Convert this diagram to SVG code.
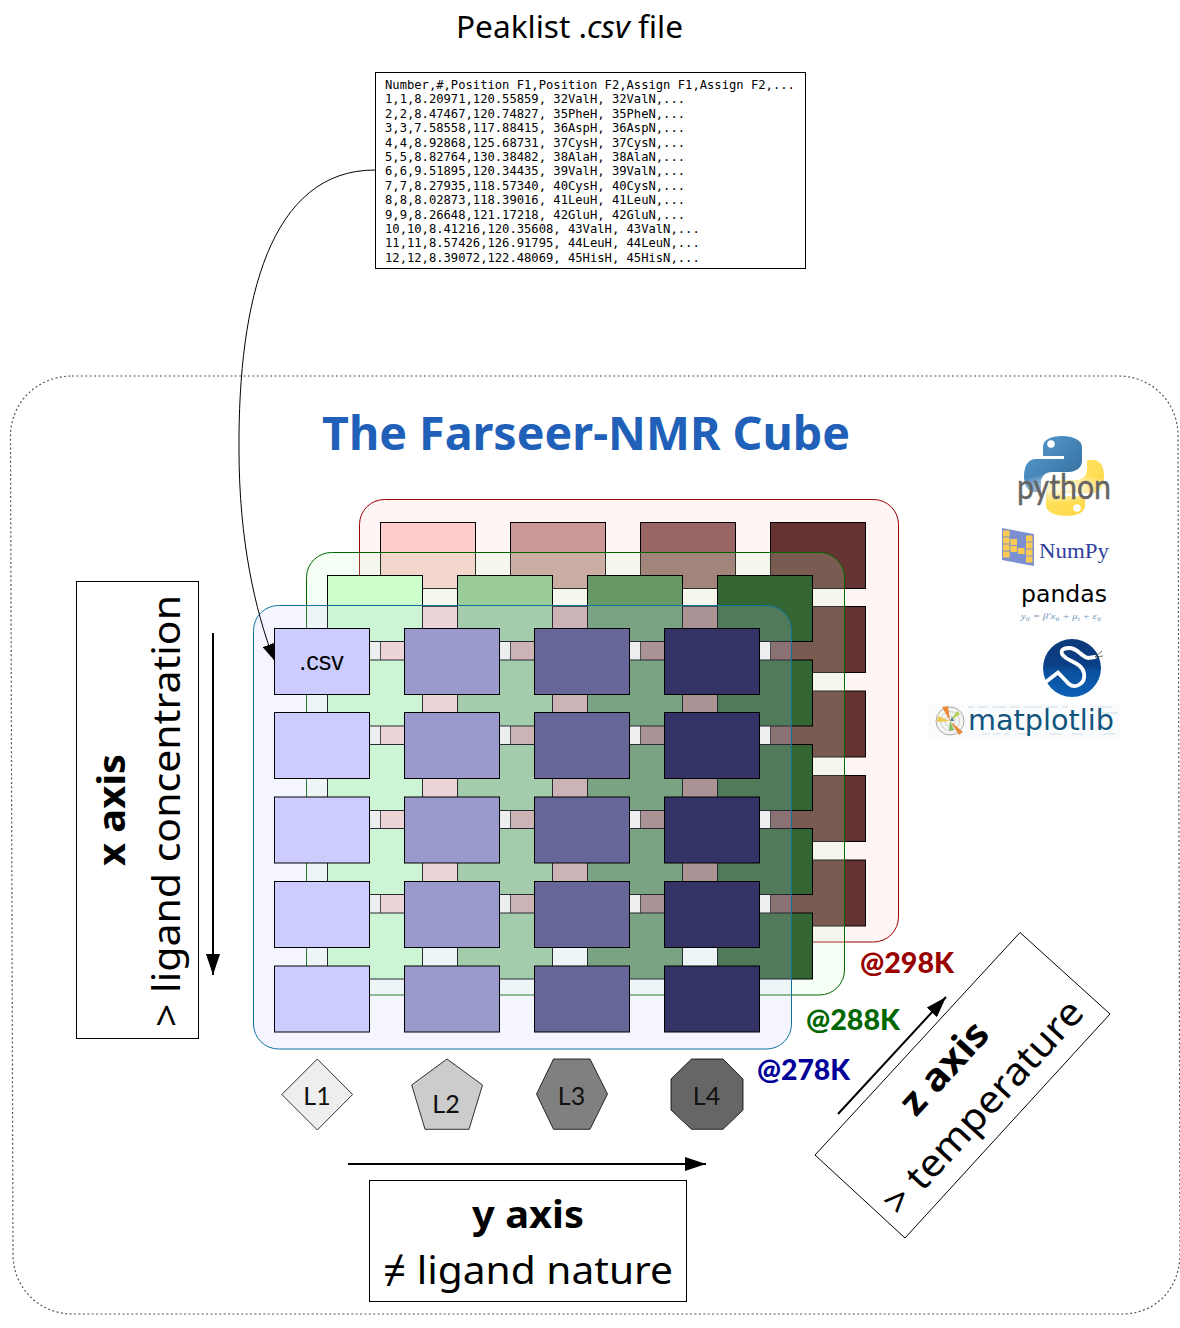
<svg xmlns="http://www.w3.org/2000/svg" width="1180" height="1328" viewBox="0 0 1180 1328">
<defs>
<style>
text{font-family:"Noto Sans","DejaVu Sans",sans-serif;fill:#000}
.c{stroke:#000;stroke-width:1;height:66px}
.r1{fill:#ffcccc}.r2{fill:#cc9999}.r3{fill:#996666}.r4{fill:#663333}
.g1{fill:#ccffcc}.g2{fill:#99cc99}.g3{fill:#669966}.g4{fill:#336633}
.b1{fill:#ccccff}.b2{fill:#9999cc}.b3{fill:#666699}.b4{fill:#333366}
.box{fill:#fff;stroke:#000;stroke-width:1}
.mono{font-family:"DejaVu Sans Mono",monospace;font-size:12.17px}
.b{font-weight:700}
.temp{font-family:"Lato",sans-serif;font-weight:900;font-size:29px}
.l{font-family:"Lato",sans-serif;font-size:25px;text-anchor:middle;fill:#111}
.lig{stroke:#000;stroke-width:.8}
.arrow{fill:none;stroke:#000;stroke-width:2;marker-end:url(#ah)}
</style>
<marker id="ah" markerWidth="10.500" markerHeight="7" refX="10.500" refY="3.500" orient="auto" markerUnits="strokeWidth"><path d="M0 0L10.500 3.500L0 7Z" fill="#000"/></marker>
<marker id="ah2" markerWidth="16" markerHeight="12" refX="16" refY="6" orient="auto" markerUnits="userSpaceOnUse"><path d="M0 0L16 6L0 12Z" fill="#000"/></marker>
<linearGradient id="py1" x1="0" y1="0" x2="1" y2="1"><stop offset="0" stop-color="#5a9fd4"/><stop offset="1" stop-color="#306998"/></linearGradient>
<linearGradient id="py2" x1="0" y1="0" x2="1" y2="1"><stop offset="0" stop-color="#ffd43b"/><stop offset="1" stop-color="#ffe873"/></linearGradient>
<linearGradient id="sp" x1="0" y1="0" x2="0" y2="1"><stop offset="0" stop-color="#0a3a78"/><stop offset=".45" stop-color="#0b3f86"/><stop offset=".55" stop-color="#0a4f9c"/><stop offset="1" stop-color="#0c62b8"/></linearGradient>
<radialGradient id="pyfade"><stop offset="0" stop-color="#fff" stop-opacity=".9"/><stop offset="1" stop-color="#fff" stop-opacity="0"/></radialGradient>
</defs>
<rect width="1180" height="1328" fill="#fff"/>

<g id="title-peaklist"><text x="569.500" y="38" font-size="31" text-anchor="middle" textLength="227" lengthAdjust="spacingAndGlyphs">Peaklist .<tspan font-style="italic">csv</tspan> file</text></g>

<g id="cube-frame"><path d="M72 376H1118C1152 376 1178 402 1178 436L1180 1254C1180 1288 1156 1314 1122 1314H73C39 1314 13 1288 13 1254L10.500 436C10.500 402 38 376 72 376Z" fill="none" stroke="#555" stroke-width="1.200" stroke-dasharray="2 2.400"/></g>

<g id="peaklist"><rect class="box" x="375.500" y="72.500" width="430" height="196"/>
<text class="mono" x="385" y="89">Number,#,Position F1,Position F2,Assign F1,Assign F2,...</text>
<text class="mono" x="385" y="103.400">1,1,8.20971,120.55859, 32ValH, 32ValN,...</text>
<text class="mono" x="385" y="117.800">2,2,8.47467,120.74827, 35PheH, 35PheN,...</text>
<text class="mono" x="385" y="132.200">3,3,7.58558,117.88415, 36AspH, 36AspN,...</text>
<text class="mono" x="385" y="146.600">4,4,8.92868,125.68731, 37CysH, 37CysN,...</text>
<text class="mono" x="385" y="161">5,5,8.82764,130.38482, 38AlaH, 38AlaN,...</text>
<text class="mono" x="385" y="175.400">6,6,9.51895,120.34435, 39ValH, 39ValN,...</text>
<text class="mono" x="385" y="189.800">7,7,8.27935,118.57340, 40CysH, 40CysN,...</text>
<text class="mono" x="385" y="204.200">8,8,8.02873,118.39016, 41LeuH, 41LeuN,...</text>
<text class="mono" x="385" y="218.600">9,9,8.26648,121.17218, 42GluH, 42GluN,...</text>
<text class="mono" x="385" y="233">10,10,8.41216,120.35608, 43ValH, 43ValN,...</text>
<text class="mono" x="385" y="247.400">11,11,8.57426,126.91795, 44LeuH, 44LeuN,...</text>
<text class="mono" x="385" y="261.800">12,12,8.39072,122.48069, 45HisH, 45HisN,...</text>
</g>

<g id="title"><text x="586" y="450" font-size="47" class="b" text-anchor="middle" textLength="528" lengthAdjust="spacingAndGlyphs" style="fill:#2060b8">The Farseer-NMR Cube</text></g>

<g id="layer-298K">
<rect x="359.500" y="499.500" width="539" height="442.500" rx="25" fill="#ffcccc" fill-opacity=".2" stroke="#990000"/>
<g id="r11"><rect class="c r1" x="380.500" y="522.500" width="95" height="66"/></g><g id="r12"><rect class="c r2" x="510.500" y="522.500" width="95" height="66"/></g><g id="r13"><rect class="c r3" x="640.500" y="522.500" width="95" height="66"/></g><g id="r14"><rect class="c r4" x="770.500" y="522.500" width="95" height="66"/></g>
<g id="r21"><rect class="c r1" x="380.500" y="606.500" width="95" height="66"/></g><g id="r22"><rect class="c r2" x="510.500" y="606.500" width="95" height="66"/></g><g id="r23"><rect class="c r3" x="640.500" y="606.500" width="95" height="66"/></g><g id="r24"><rect class="c r4" x="770.500" y="606.500" width="95" height="66"/></g>
<g id="r31"><rect class="c r1" x="380.500" y="691" width="95" height="66"/></g><g id="r32"><rect class="c r2" x="510.500" y="691" width="95" height="66"/></g><g id="r33"><rect class="c r3" x="640.500" y="691" width="95" height="66"/></g><g id="r34"><rect class="c r4" x="770.500" y="691" width="95" height="66"/></g>
<g id="r41"><rect class="c r1" x="380.500" y="775.500" width="95" height="66"/></g><g id="r42"><rect class="c r2" x="510.500" y="775.500" width="95" height="66"/></g><g id="r43"><rect class="c r3" x="640.500" y="775.500" width="95" height="66"/></g><g id="r44"><rect class="c r4" x="770.500" y="775.500" width="95" height="66"/></g>
<g id="r51"><rect class="c r1" x="380.500" y="860" width="95" height="66"/></g><g id="r52"><rect class="c r2" x="510.500" y="860" width="95" height="66"/></g><g id="r53"><rect class="c r3" x="640.500" y="860" width="95" height="66"/></g><g id="r54"><rect class="c r4" x="770.500" y="860" width="95" height="66"/></g>
</g>

<g id="layer-288K">
<rect x="306.500" y="552.500" width="538" height="442.500" rx="25" fill="#ccffcc" fill-opacity=".2" stroke="#006600"/>
<g id="g11"><rect class="c g1" x="327.500" y="575.500" width="95" height="66"/></g><g id="g12"><rect class="c g2" x="457.500" y="575.500" width="95" height="66"/></g><g id="g13"><rect class="c g3" x="587.500" y="575.500" width="95" height="66"/></g><g id="g14"><rect class="c g4" x="717.500" y="575.500" width="95" height="66"/></g>
<g id="g21"><rect class="c g1" x="327.500" y="660" width="95" height="66"/></g><g id="g22"><rect class="c g2" x="457.500" y="660" width="95" height="66"/></g><g id="g23"><rect class="c g3" x="587.500" y="660" width="95" height="66"/></g><g id="g24"><rect class="c g4" x="717.500" y="660" width="95" height="66"/></g>
<g id="g31"><rect class="c g1" x="327.500" y="744.500" width="95" height="66"/></g><g id="g32"><rect class="c g2" x="457.500" y="744.500" width="95" height="66"/></g><g id="g33"><rect class="c g3" x="587.500" y="744.500" width="95" height="66"/></g><g id="g34"><rect class="c g4" x="717.500" y="744.500" width="95" height="66"/></g>
<g id="g41"><rect class="c g1" x="327.500" y="828.500" width="95" height="66"/></g><g id="g42"><rect class="c g2" x="457.500" y="828.500" width="95" height="66"/></g><g id="g43"><rect class="c g3" x="587.500" y="828.500" width="95" height="66"/></g><g id="g44"><rect class="c g4" x="717.500" y="828.500" width="95" height="66"/></g>
<g id="g51"><rect class="c g1" x="327.500" y="913" width="95" height="66"/></g><g id="g52"><rect class="c g2" x="457.500" y="913" width="95" height="66"/></g><g id="g53"><rect class="c g3" x="587.500" y="913" width="95" height="66"/></g><g id="g54"><rect class="c g4" x="717.500" y="913" width="95" height="66"/></g>
</g>

<g id="layer-278K">
<rect x="253.500" y="605.500" width="538" height="443.500" rx="25" fill="#ccccff" fill-opacity=".2" stroke="#10739e"/>
<g id="b11"><rect class="c b1" x="274.500" y="628.500" width="95" height="66"/><text x="321.500" y="670" font-size="25" text-anchor="middle" style="font-family:'Liberation Sans',sans-serif">.csv</text></g><g id="b12"><rect class="c b2" x="404.500" y="628.500" width="95" height="66"/></g><g id="b13"><rect class="c b3" x="534.500" y="628.500" width="95" height="66"/></g><g id="b14"><rect class="c b4" x="664.500" y="628.500" width="95" height="66"/></g>
<g id="b21"><rect class="c b1" x="274.500" y="712.500" width="95" height="66"/></g><g id="b22"><rect class="c b2" x="404.500" y="712.500" width="95" height="66"/></g><g id="b23"><rect class="c b3" x="534.500" y="712.500" width="95" height="66"/></g><g id="b24"><rect class="c b4" x="664.500" y="712.500" width="95" height="66"/></g>
<g id="b31"><rect class="c b1" x="274.500" y="797" width="95" height="66"/></g><g id="b32"><rect class="c b2" x="404.500" y="797" width="95" height="66"/></g><g id="b33"><rect class="c b3" x="534.500" y="797" width="95" height="66"/></g><g id="b34"><rect class="c b4" x="664.500" y="797" width="95" height="66"/></g>
<g id="b41"><rect class="c b1" x="274.500" y="881.500" width="95" height="66"/></g><g id="b42"><rect class="c b2" x="404.500" y="881.500" width="95" height="66"/></g><g id="b43"><rect class="c b3" x="534.500" y="881.500" width="95" height="66"/></g><g id="b44"><rect class="c b4" x="664.500" y="881.500" width="95" height="66"/></g>
<g id="b51"><rect class="c b1" x="274.500" y="966" width="95" height="66"/></g><g id="b52"><rect class="c b2" x="404.500" y="966" width="95" height="66"/></g><g id="b53"><rect class="c b3" x="534.500" y="966" width="95" height="66"/></g><g id="b54"><rect class="c b4" x="664.500" y="966" width="95" height="66"/></g>
</g>

<g id="temps">
<text class="temp" x="860" y="973" textLength="94" lengthAdjust="spacingAndGlyphs" style="fill:#990000">@298K</text>
<text class="temp" x="806" y="1030" textLength="94" lengthAdjust="spacingAndGlyphs" style="fill:#006600">@288K</text>
<text class="temp" x="757" y="1080" textLength="93" lengthAdjust="spacingAndGlyphs" style="fill:#000099">@278K</text>
</g>

<g id="L1"><polygon class="lig" points="317.300,1059 352.600,1094.500 317.300,1130 281.800,1094.500" fill="#eeeeee"/><text class="l" x="317" y="1105">L1</text></g>
<g id="L2"><polygon class="lig" points="447,1059 482.500,1085 469,1129.300 425,1129.300 411.700,1085" fill="#cccccc"/><text class="l" x="446" y="1113">L2</text></g>
<g id="L3"><polygon class="lig" points="553.500,1059 590,1059 607.500,1094 590,1129.300 553.500,1129.300 536.500,1094" fill="#808080"/><text class="l" x="571.500" y="1105">L3</text></g>
<g id="L4"><polygon class="lig" points="691.500,1059 723,1059 743,1079 743,1110 723,1129.300 691.500,1129.300 671,1110 671,1079" fill="#666666"/><text class="l" x="706.500" y="1105">L4</text></g>

<g id="x-axis-box"><rect class="box" x="76.500" y="581.500" width="122" height="457"/>
<text class="b" transform="translate(125 810) rotate(-90)" font-size="38" text-anchor="middle" textLength="112" lengthAdjust="spacingAndGlyphs">x axis</text>
<text transform="translate(180 811) rotate(-90)" font-size="38" text-anchor="middle" textLength="432" lengthAdjust="spacingAndGlyphs">&gt; ligand concentration</text></g>

<g id="y-axis-box"><rect class="box" x="369.500" y="1180.500" width="317" height="121"/>
<text class="b" x="528" y="1228" font-size="38" text-anchor="middle" textLength="112" lengthAdjust="spacingAndGlyphs">y axis</text>
<text x="528" y="1284" font-size="38" text-anchor="middle" textLength="290" lengthAdjust="spacingAndGlyphs">≠ ligand nature</text></g>

<g id="z-axis-box"><polygon class="box" points="1020,932.500 1110,1014 905,1238 815,1155"/>
<text class="b" transform="translate(944 1068) rotate(-47.500)" x="0" y="13" font-size="38" text-anchor="middle" textLength="112" lengthAdjust="spacingAndGlyphs">z axis</text>
<text transform="translate(983 1107) rotate(-47.500)" x="0" y="13" font-size="38" text-anchor="middle" textLength="276" lengthAdjust="spacingAndGlyphs">&gt; temperature</text></g>

<g id="connectors">
<path d="M375 170C270 170 238 300 239 450C239 540 255 610 274 660" fill="none" stroke="#000" marker-end="url(#ah2)"/>
<line x1="213" y1="633" x2="213" y2="975" class="arrow"/>
<line x1="348" y1="1164" x2="706" y2="1164" class="arrow"/>
<line x1="838" y1="1114" x2="946" y2="997" class="arrow"/>
</g>

<g id="logo-python">
<path d="M1062 436C1050 436 1043 440 1043 447V456H1064V459H1036C1028 459 1024 466 1024 476C1024 486 1028 492 1035 492H1041V482C1041 476 1046 472 1052 472H1069C1075 472 1082 468 1082 461V447C1082 440 1073 436 1062 436Z" fill="url(#py1)"/>
<path d="M1062 436C1050 436 1043 440 1043 447V456H1064V459H1036C1028 459 1024 466 1024 476C1024 486 1028 492 1035 492H1041V482C1041 476 1046 472 1052 472H1069C1075 472 1082 468 1082 461V447C1082 440 1073 436 1062 436Z" fill="url(#py2)" transform="rotate(180 1064 476)"/>
<circle cx="1051" cy="444" r="3.800" fill="#fff"/><circle cx="1077" cy="508" r="3.800" fill="#fff"/>
<ellipse cx="1064" cy="488" rx="52" ry="15" fill="url(#pyfade)"/>
<text x="1064" y="498.500" font-size="34" text-anchor="middle" textLength="94" lengthAdjust="spacingAndGlyphs" style="font-family:'Lato',sans-serif;fill:#646464;stroke:#646464;stroke-width:.4">python</text>
</g>

<g id="logo-numpy">
<path d="M1002 528L1034 534V566L1002 560Z" fill="#7c8fd0"/>
<g fill="#fdcb52"><rect x="1003" y="530.500" width="6.500" height="6"/><rect x="1003" y="537.500" width="6.500" height="6"/><rect x="1003" y="544.500" width="6.500" height="6"/><rect x="1003" y="551.500" width="6.500" height="6"/><rect x="1010.500" y="539" width="6.500" height="6"/><rect x="1010.500" y="546" width="6.500" height="6"/><rect x="1018" y="548" width="6.500" height="6"/><rect x="1026" y="535.500" width="6.500" height="6"/><rect x="1026" y="542.500" width="6.500" height="6"/><rect x="1026" y="549.500" width="6.500" height="6"/><rect x="1026" y="556.500" width="6.500" height="6"/></g>
<text x="1039" y="558" font-size="22" textLength="70" lengthAdjust="spacingAndGlyphs" style="font-family:'Liberation Serif',serif;fill:#2e3f9e">NumPy</text>
</g>

<g id="logo-pandas">
<text x="1021" y="602" font-size="23" textLength="86" lengthAdjust="spacingAndGlyphs" style="font-family:'DejaVu Sans',sans-serif">pandas</text>
<text x="1021" y="619" font-size="9" textLength="80" lengthAdjust="spacingAndGlyphs" style="font-family:'Liberation Serif',serif;font-style:italic;fill:#6f93b5">y<tspan font-size="6" dy="1.500">it</tspan><tspan dy="-1.500"> = β′x</tspan><tspan font-size="6" dy="1.500">it</tspan><tspan dy="-1.500"> + μ</tspan><tspan font-size="6" dy="1.500">i</tspan><tspan dy="-1.500"> + ε</tspan><tspan font-size="6" dy="1.500">it</tspan></text>
</g>

<g id="logo-scipy">
<circle cx="1072" cy="668" r="29" fill="url(#sp)"/>
<path d="M1047 681L1058 672.500L1069 684C1075 689 1086 684 1084 673C1082 664 1072 662 1066 658C1058 652 1062 648 1069 648C1078 648 1080 656 1088 658L1095 657" fill="none" stroke="#fff" stroke-width="3.800" stroke-linecap="round"/>
<path d="M1095 657L1102 651M1095 657L1103 656" fill="none" stroke="#333" stroke-width=".7"/>
</g>

<g id="logo-matplotlib">
<rect x="927" y="703" width="193" height="35" fill="#fafbfc"/>
<path d="M968 707h6m4 0h10m4 0h14m4 0h10m4 0h18m4 0h12m4 0h6M1098 707h14M1098 713h20M982 734h8m3 0h8m3 0h6M1018 734h10m22 0h12m10 0h10M1103 734h12" fill="none" stroke="#9fb0bc" stroke-opacity=".22" stroke-width="2"/>
<circle cx="950" cy="721" r="14" fill="#f4f4f0" stroke="#aaa"/>
<circle cx="950" cy="721" r="9.500" fill="none" stroke="#bbb" stroke-width=".7"/>
<circle cx="950" cy="721" r="5" fill="none" stroke="#bbb" stroke-width=".7"/>
<path d="M950 721L942 707L948 706Z" fill="#e88a3a"/>
<path d="M950 721L963 732L959 735Z" fill="#e88a3a"/>
<path d="M950 721L957 711L960 714Z" fill="#b8d050"/>
<path d="M950 721L938 716L937 722Z" fill="#ecc850"/>
<path d="M950 721L949 731L954 730Z" fill="#7cc060"/>
<path d="M950 721L954 721L952 717Z" fill="#4a78a0"/>
<text x="968" y="730" font-size="29" textLength="146" lengthAdjust="spacingAndGlyphs" style="font-family:'DejaVu Sans',sans-serif;fill:#11557c">matplotlib</text>
</g>
</svg>
